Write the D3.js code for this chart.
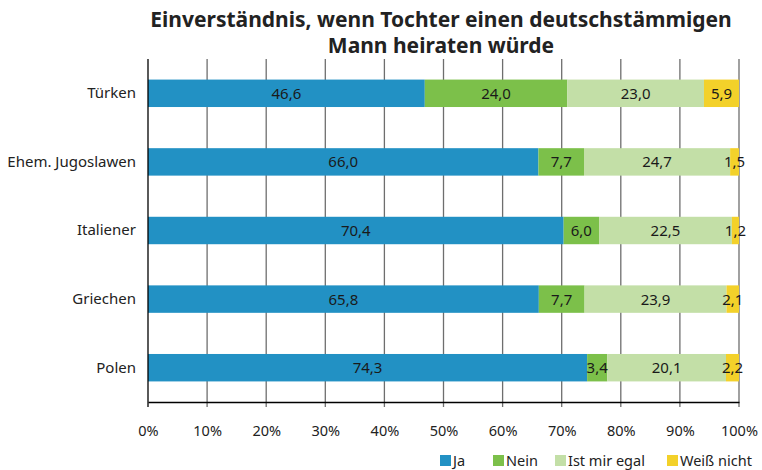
<!DOCTYPE html>
<html>
<head>
<meta charset="utf-8">
<script src="https://cdn.jsdelivr.net/npm/d3@7"></script>
<style>
  body { margin: 0; background: #fff; }
  svg { display: block; font-family: "Noto Sans", "Open Sans", sans-serif; }
</style>
</head>
<body>
<svg id="chart" width="762" height="470"></svg>
<script>
// Groups and answer shares (percent)
const groups = ["Türken", "Ehem. Jugoslawen", "Italiener", "Griechen", "Polen"];
const answers = ["Ja", "Nein", "Ist mir egal", "Weiß nicht"];
const ja = [46.6, 66.0, 70.4, 65.8, 74.3];
const nein = [24.0, 7.7, 6.0, 7.7, 3.4];
const egal = [23.0, 24.7, 22.5, 23.9, 20.1];
const weissNicht = [5.9, 1.5, 1.2, 2.1, 2.2];
const colors = ["#2291c4", "#7cc04a", "#c3dfa7", "#f3d12a"];
const tickValues = [0, 0.1, 0.2, 0.3, 0.4, 0.5, 0.6, 0.7, 0.8, 0.9, 1.0];

const rows = groups.map((g, i) => ({
  group: g, "Ja": ja[i], "Nein": nein[i], "Ist mir egal": egal[i], "Weiß nicht": weissNicht[i]
}));

const svg = d3.select("#chart");
const plotLeft = 148, plotRight = 739, plotTop = 59, plotBottom = 402, gridEnd = 407;

const x = d3.scaleLinear().domain([0, 1]).range([plotLeft, plotRight]);
const y = d3.scaleBand().domain(groups).range([plotTop, plotBottom]).paddingInner(0.6).paddingOuter(0.3);

// Title
const title = svg.append("g").attr("font-weight", "bold").attr("font-size", 21)
  .attr("fill", "#222").attr("text-anchor", "middle");
title.append("text").attr("x", 441).attr("y", 27).text("Einverständnis, wenn Tochter einen deutschstämmigen");
title.append("text").attr("x", 441).attr("y", 53).text("Mann heiraten würde");

// Vertical grid lines
svg.append("g").selectAll("line").data(tickValues.slice(1)).join("line")
  .attr("x1", d => x(d)).attr("x2", d => x(d))
  .attr("y1", plotTop).attr("y2", gridEnd)
  .attr("stroke", "#6e6e6e").attr("stroke-width", 1.3);

// Stacked, normalised bars
const stack = d3.stack().keys(answers).offset(d3.stackOffsetExpand);
const series = stack(rows);

const layers = svg.append("g").selectAll("g").data(series).join("g")
  .attr("fill", (d, i) => colors[i]);
layers.selectAll("rect").data(d => d).join("rect")
  .attr("x", d => x(d[0]))
  .attr("width", d => x(d[1]) - x(d[0]))
  .attr("y", d => y(d.data.group))
  .attr("height", y.bandwidth());

// Value labels centred in each segment
const labels = svg.append("g").attr("font-size", 15).attr("fill", "#1a1a1a").attr("text-anchor", "middle");
series.forEach(s => {
  s.forEach(d => {
    labels.append("text")
      .attr("x", (x(d[0]) + x(d[1])) / 2)
      .attr("y", y(d.data.group) + y.bandwidth() / 2 + 5.5)
      .text(d3.format(".1f")(d.data[s.key]).replace(".", ","));
  });
});

// Category axis
const yAxis = svg.append("g").attr("transform", `translate(${plotLeft},0)`)
  .call(d3.axisLeft(y).tickSize(0).tickPadding(12));
yAxis.select(".domain").attr("stroke", "#000").attr("stroke-width", 1.3)
  .attr("d", `M0,${plotTop}V${gridEnd}`);
yAxis.selectAll("text").attr("font-size", 15).attr("fill", "#222")
  .attr("font-family", "'Noto Sans', sans-serif");

// Percent axis
const xAxis = svg.append("g").attr("transform", `translate(0,${plotBottom})`)
  .call(d3.axisBottom(x).tickValues(tickValues).tickSize(0).tickPadding(24)
    .tickFormat(d => Math.round(d * 100) + "%"));
xAxis.select(".domain").attr("stroke", "#000").attr("stroke-width", 1.3);
xAxis.selectAll("text").attr("font-size", 14.5).attr("fill", "#222")
  .attr("font-family", "'Noto Sans', sans-serif");

// Legend
const legendX = [440, 493, 555, 667];
const legend = svg.append("g").attr("transform", "translate(0,455)");
answers.forEach((a, i) => {
  legend.append("rect").attr("x", legendX[i]).attr("y", 0).attr("width", 11).attr("height", 11)
    .attr("fill", colors[i]);
  legend.append("text").attr("x", legendX[i] + 13).attr("y", 10.5).attr("font-size", 14.5)
    .attr("fill", "#222").text(a);
});
</script>
</body>
</html>
